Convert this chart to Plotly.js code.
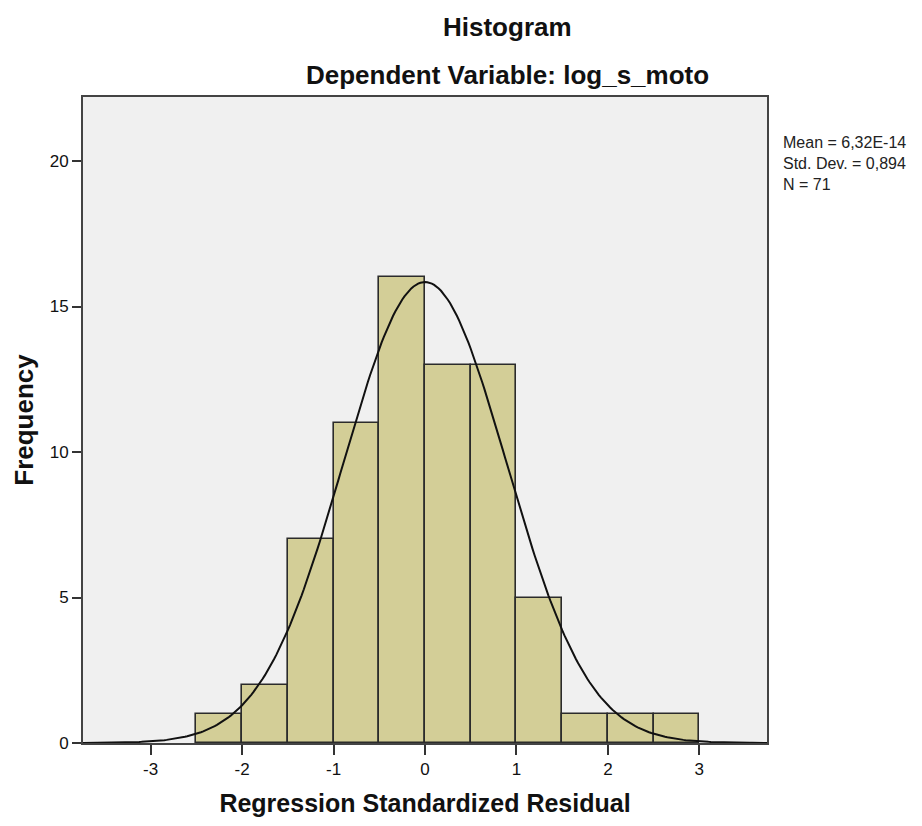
<!DOCTYPE html>
<html>
<head>
<meta charset="utf-8">
<script src="https://cdn.plot.ly/plotly-3.0.1.min.js"></script>
<style>html,body{margin:0;padding:0;background:#fff;}#chart{width:922px;height:826px;}</style>
</head>
<body>
<div id="chart"></div>
<script>
// Histogram bins (centres) and frequencies
const binCenters = [-2.25, -1.75, -1.25, -0.75, -0.25, 0.25, 0.75, 1.25, 1.75, 2.25, 2.75];
const frequencies = [1, 2, 7, 11, 16, 13, 13, 5, 1, 1, 1];
const binWidth = 0.5;
// Summary statistics shown in the chart's legend
const statMean = 6.32e-14;
const statSD = 0.894;
const statN = 71;
const statLabels = ["Mean = 6,32E-14", "Std. Dev. = 0,894", "N = 71"];
const xTicks = [-3, -2, -1, 0, 1, 2, 3];
const yTicks = [0, 5, 10, 15, 20];

// Fitted normal curve defined by the legend's mean / SD / N
const curveX = [];
const curveY = [];
for (let i = 0; i <= 300; i++) {
  const x = -3.75 + i * 7.5 / 300;
  const z = (x - statMean) / statSD;
  curveX.push(x);
  curveY.push(statN * binWidth * Math.exp(-0.5 * z * z) / (statSD * Math.sqrt(2 * Math.PI)));
}

const FONT = "Liberation Sans, Arial, sans-serif";

const traces = [
  {
    type: "bar",
    x: binCenters,
    y: frequencies,
    width: binWidth,
    marker: { color: "rgb(211,206,151)", line: { color: "#2b2b2b", width: 1.6 } },
    hoverinfo: "x+y",
    showlegend: false
  },
  {
    type: "scatter",
    mode: "lines",
    x: curveX,
    y: curveY,
    line: { color: "#111", width: 2 },
    hoverinfo: "skip",
    showlegend: false
  }
];

const annotations = [{
  text: statLabels.join("<br>"), xref: "paper", yref: "paper", x: 1.0205, y: 0.8978,
  xanchor: "left", yanchor: "middle", align: "left", showarrow: false,
  font: { family: FONT, size: 16, color: "#222" }
}];
annotations.push({
  text: "Histogram", xref: "paper", yref: "paper", x: 0.62, y: 1.1084,
  xanchor: "center", yanchor: "middle", showarrow: false,
  font: { family: FONT, size: 26, color: "#111", weight: "bold" }
});
annotations.push({
  text: "Dependent Variable: log_s_moto", xref: "paper", yref: "paper", x: 0.62, y: 1.034,
  xanchor: "center", yanchor: "middle", showarrow: false,
  font: { family: FONT, size: 26, color: "#111", weight: "bold" }
});

const layout = {
  width: 922,
  height: 826,
  margin: { l: 83, r: 155, t: 97, b: 83 },
  paper_bgcolor: "#ffffff",
  plot_bgcolor: "#f0f0f0",
  bargap: 0,
  showlegend: false,
  xaxis: {
    range: [-3.74, 3.74],
    tickvals: xTicks,
    ticktext: xTicks.map(String),
    ticks: "outside",
    ticklen: 10,
    tickwidth: 2,
    tickcolor: "#333",
    showgrid: false,
    zeroline: false,
    showline: true,
    linecolor: "#444",
    linewidth: 2,
    mirror: true,
    tickfont: { family: FONT, size: 17, color: "#111" },
    title: { text: "Regression Standardized Residual", standoff: 16,
             font: { family: FONT, size: 25, color: "#111", weight: "bold" } },
    automargin: false
  },
  yaxis: {
    range: [0, 22.2],
    tickvals: yTicks,
    ticks: "outside",
    ticklen: 9,
    tickwidth: 2,
    tickcolor: "#333",
    showgrid: false,
    zeroline: false,
    showline: true,
    linecolor: "#444",
    linewidth: 2,
    mirror: true,
    tickfont: { family: FONT, size: 17, color: "#111" },
    title: { text: "Frequency", standoff: 9,
             font: { family: FONT, size: 26, color: "#111", weight: "bold" } },
    automargin: false
  },
  annotations: annotations
};

Plotly.newPlot("chart", traces, layout, { displayModeBar: false, staticPlot: false });
</script>
</body>
</html>
